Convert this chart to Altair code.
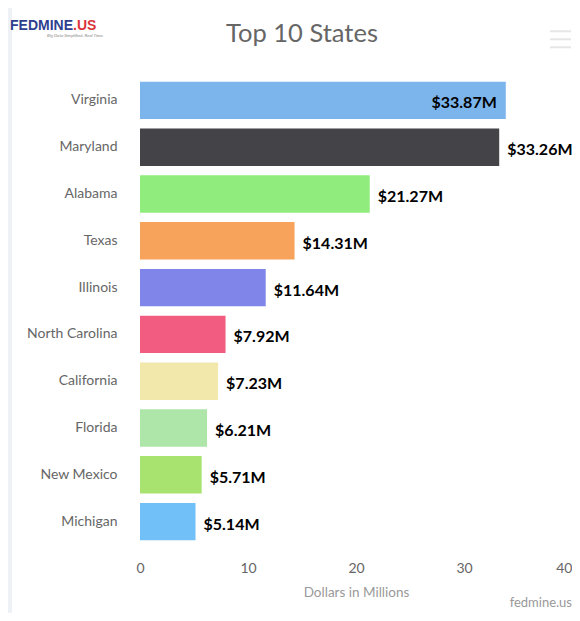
import altair as alt
import pandas as pd

states = ["Virginia", "Maryland", "Alabama", "Texas", "Illinois",
          "North Carolina", "California", "Florida", "New Mexico", "Michigan"]
values = [33.87, 33.26, 21.27, 14.31, 11.64, 7.92, 7.23, 6.21, 5.71, 5.14]
colors = ["#7cb5ec", "#434348", "#90ed7d", "#f7a35c", "#8085e9",
          "#f15c80", "#f2e8ab", "#aee6aa", "#a8e36f", "#72c0f8"]
x_ticks = [0, 10, 20, 30, 40]

df = pd.DataFrame({
    "state": states,
    "value": values,
    "label": ["$%.2fM" % v for v in values],
})

FONT = "Lato"
PW = 432

y_enc = alt.Y("state:N", sort=states,
              scale=alt.Scale(paddingInner=0.2, paddingOuter=0.1),
              axis=alt.Axis(title=None, labelFont=FONT, labelFontSize=14,
                            labelColor="#666666", labelPadding=23,
                            ticks=False, domain=False))
x_enc = alt.X("value:Q",
              scale=alt.Scale(domain=[0, 40], nice=False),
              axis=alt.Axis(title="Dollars in Millions", values=x_ticks,
                            grid=False, ticks=False, domain=False,
                            labelFont=FONT, labelFontSize=14, labelColor="#666666",
                            labelPadding=16,
                            labelAlign=alt.expr("datum.value == 40 ? 'right' : 'center'"),
                            titleFont=FONT, titleFontSize=13.5, titleColor="#999999",
                            titleFontWeight="normal", titlePadding=10))

base = alt.Chart(df)

bars = base.mark_bar().encode(
    x=x_enc,
    y=y_enc,
    color=alt.Color("state:N", scale=alt.Scale(domain=states, range=colors), legend=None),
)

lab_out = base.transform_filter("datum.value < 33.5").mark_text(
    align="left", baseline="middle", dx=8, dy=3, font=FONT, fontSize=16,
    fontWeight="bold", color="#000000"
).encode(x="value:Q", y=alt.Y("state:N", sort=states), text="label:N")

lab_in = base.transform_filter("datum.value >= 33.5").mark_text(
    align="right", baseline="middle", dx=-9, dy=3, font=FONT, fontSize=16,
    fontWeight="bold", color="#000000"
).encode(x="value:Q", y=alt.Y("state:N", sort=states), text="label:N")

one = alt.Data(values=[{}])

strip = alt.Chart(one).mark_rect(color="#eef1f5").encode(
    x=alt.value(-132), x2=alt.value(-128), y=alt.value(-69), y2=alt.value(536))

title = alt.Chart(one).mark_text(
    text="Top 10 States", font=FONT, fontSize=25.5, color="#666666",
    align="center", baseline="alphabetic"
).encode(x=alt.value(162), y=alt.value(-35))

logo1 = alt.Chart(one).mark_text(
    text="FEDMINE", font="Liberation Sans", fontSize=14, fontWeight="bold",
    color="#2e3f8f", align="left", baseline="alphabetic"
).encode(x=alt.value(-130), y=alt.value(-47))
logo2 = alt.Chart(one).mark_text(
    text=".US", font="Liberation Sans", fontSize=14, fontWeight="bold",
    color="#d9343a", align="left", baseline="alphabetic"
).encode(x=alt.value(-67), y=alt.value(-47))
tagline = alt.Chart(one).mark_text(
    text="Big Data Simplified. Real Time.", font=FONT, fontSize=4.5, fontStyle="italic",
    color="#888888", align="left", baseline="alphabetic"
).encode(x=alt.value(-93), y=alt.value(-40))

menu = alt.Chart(pd.DataFrame({"yy": [-45.7, -37.7, -29.7]})).mark_rule(
    color="#e6e6e6", strokeWidth=2
).encode(x=alt.value(410), x2=alt.value(431), y=alt.Y("yy:Q", scale=None))

credit = alt.Chart(one).mark_text(
    text="fedmine.us", font=FONT, fontSize=13, color="#999999",
    align="right", baseline="middle"
).encode(x=alt.value(PW), y=alt.value(526))

chart = alt.layer(
    strip, bars, lab_out, lab_in, title, logo1, logo2, tagline, menu, credit
).properties(
    width=PW, height=468,
    padding={"left": 132, "top": 69, "right": 0, "bottom": 68},
    autosize=alt.AutoSizeParams(type="none"),
    background="#ffffff",
).configure_view(strokeWidth=0)

chart.save("out.html", embed_options={"renderer": "svg", "actions": False})
